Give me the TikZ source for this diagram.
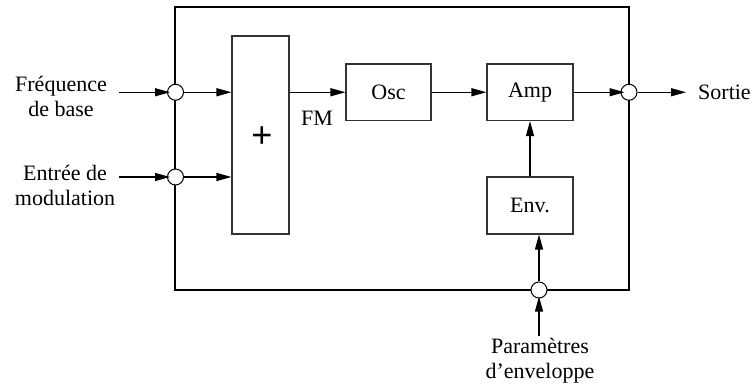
\documentclass[tikz,border=0pt]{standalone}
\usepackage{fontspec}
\setmainfont{Liberation Serif}
\newfontfamily\plusfont{Liberation Sans}
\usetikzlibrary{arrows.meta}
\begin{document}
\begin{tikzpicture}[x=1pt,y=-1pt,
  font=\fontsize{22}{25}\selectfont,
  blk/.style={draw=black!80,line width=1.1pt,inner sep=0pt},
  port/.style={circle,draw=black,fill=white,line width=1pt,minimum size=16pt,inner sep=0pt},
  arr/.style={line width=1.2pt,-{Triangle[length=15pt,width=8pt]}},
  lbl/.style={align=center,inner sep=0pt}]
\useasboundingbox (0,0) rectangle (756,385);
% outer frame
\node[draw=black,line width=2pt,inner sep=0pt,minimum width=454pt,minimum height=282.5pt] (frame) at (402,148.75) {};
% blocks
\node[blk,minimum width=57pt,minimum height=198pt] (plus) at (260.5,135) {};
\node[font=\plusfont\fontsize{36}{36}\selectfont,inner sep=0pt] (plussign) at (262,137) {+};
\node[blk,minimum width=85pt,minimum height=56.5pt] (osc) at (388.5,92.25) {Osc};
\node[blk,minimum width=86pt,minimum height=56.5pt] (amp) at (530,92.25) {Amp};
\node[blk,minimum width=86pt,minimum height=57pt] (env) at (530,205.5) {Env.};
% ports
\node[port] (c1) at (175.5,92.25) {};
\node[port] (c2) at (175.5,177) {};
\node[port] (c3) at (629,92.25) {};
\node[port] (c4) at (539,290) {};
% free ends
\coordinate (in1) at (119,92.25);
\coordinate (in2) at (119,177);
\coordinate (out) at (686,92.25);
\coordinate (in4) at (539,336);
% labels
\node[lbl] (lf) at (61,96) {Fréquence\\de base};
\node[lbl] (le) at (65,185) {Entrée de\\modulation};
\node[lbl] (fm) at (317,118) {FM};
\node[lbl,anchor=west] (so) at (698,92.25) {Sortie};
\node[lbl,anchor=north] (pe) at (540,338) {Paramètres\\d’enveloppe};
% connectors
\draw[arr,shorten >=-3pt] (in1) -- (c1);
\draw[arr,shorten >=-3pt] (in2) -- (c2);
\draw[arr] (c1) -- (c1 -| plus.west);
\draw[arr] (c2) -- (c2 -| plus.west);
\draw[arr] (plus.east |- osc.west) -- (osc.west);
\draw[arr] (osc) -- (amp);
\draw[arr,shorten >=-4pt] (amp.east) -- (c3);
\draw[arr] (c3) -- (out);
\draw[arr] (env) -- (amp);
\draw[arr] (c4) -- (env.south -| c4);
\draw[arr,shorten >=-2pt] (in4) -- (c4);
\end{tikzpicture}
\end{document}
